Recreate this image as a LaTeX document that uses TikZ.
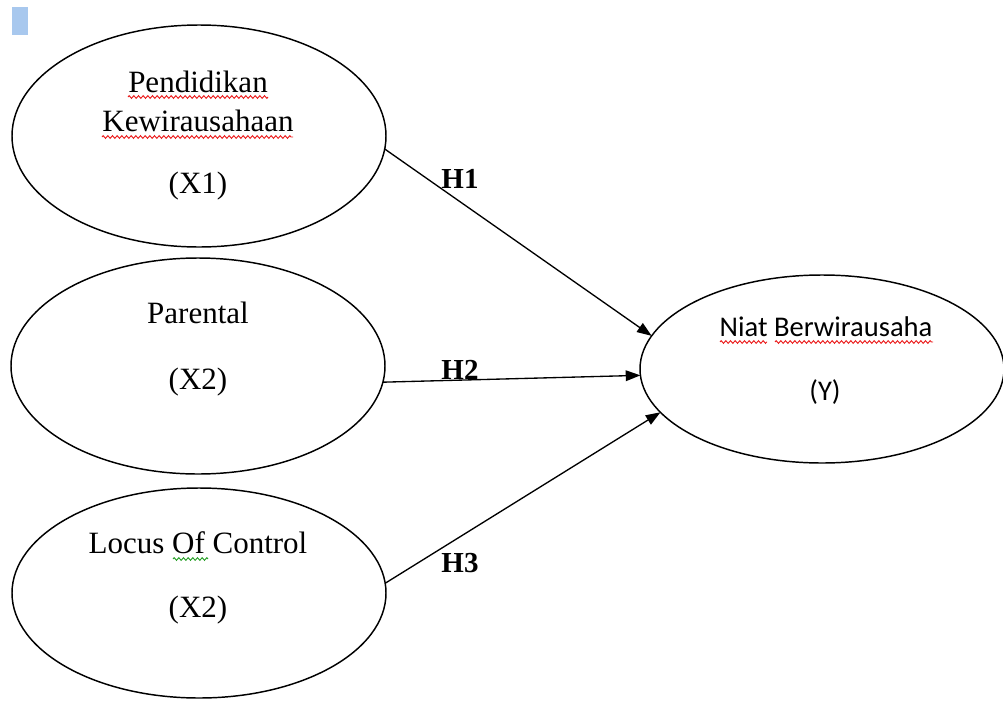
\documentclass[tikz,border=0pt]{standalone}
\usepackage{fontspec}
\setmainfont{Liberation Serif}
\newfontfamily\calfont{Carlito}
\usetikzlibrary{shapes.geometric,arrows.meta,decorations.pathmorphing}
\definecolor{markblue}{RGB}{168,200,238}
\definecolor{spellred}{RGB}{235,30,30}
\definecolor{spellgreen}{RGB}{40,160,40}
\begin{document}
\begin{tikzpicture}[x=0.75pt,y=-0.75pt,
 oval/.style={draw, ellipse, line width=1.1pt, inner sep=0pt, outer sep=0pt},
 lbl/.style={anchor=base, inner sep=0pt, font=\fontsize{23.25}{28}\selectfont},
 ylbl/.style={anchor=base, inner sep=0pt, font=\calfont\fontsize{21.4}{26}\selectfont},
 hyp/.style={anchor=base, inner sep=0pt, font=\bfseries\fontsize{21.75}{26}\selectfont},
 link/.style={line width=1pt, -{Triangle[length=11pt,width=8pt]}},
 spell/.style={line width=0.7pt, decorate, decoration={zigzag, amplitude=1pt, segment length=3.5pt}}]
\useasboundingbox (0,0) rectangle (1003,700);
\fill[markblue] (12,7) rectangle (28,35);
% ellipses
\node[oval, minimum width={374*0.75pt}, minimum height={222*0.75pt}] (x1) at (199,136) {};
\node[oval, minimum width={374*0.75pt}, minimum height={216*0.75pt}] (x2) at (198,366) {};
\node[oval, minimum width={374*0.75pt}, minimum height={210*0.75pt}] (x3) at (199,593) {};
\node[oval, minimum width={364*0.75pt}, minimum height={188*0.75pt}] (y) at (822,369) {};
% texts
\node[lbl] (t1a) at (198,92) {Pendidikan};
\node[lbl] (t1b) at (198,131) {Kewirausahaan};
\node[lbl] (t1c) at (198,193) {(X1)};
\node[lbl] (t2a) at (198,323) {Parental};
\node[lbl] (t2b) at (198,389) {(X2)};
\node[lbl] (t3a) at (198,553) {Locus Of Control};
\node[lbl] (t3b) at (198,617) {(X2)};
\node[ylbl] (tya) at (826,336) {Niat Berwirausaha};
\node[ylbl] (tyb) at (825,400) {(Y)};
% spelling marks
\draw[spell, spellred] (128,97) -- (268,97);
\draw[spell, spellred] (102,137) -- (293,137);
\draw[spell, spellgreen] (173,559) -- (208,559);
\draw[spell, spellred] (720,342) -- (767,342);
\draw[spell, spellred] (775,342) -- (933,342);
% arrows
\draw[link] (x1.-4) -- (y.169);
\draw[link] (x2.-5) -- (y.182.5);
\draw[link] (x3.3) -- (y.195.5);
% hypothesis labels
\node[hyp] (h1) at (460,188) {H1};
\node[hyp] (h2) at (460,379) {H2};
\node[hyp] (h3) at (460,572) {H3};
\end{tikzpicture}
\end{document}
